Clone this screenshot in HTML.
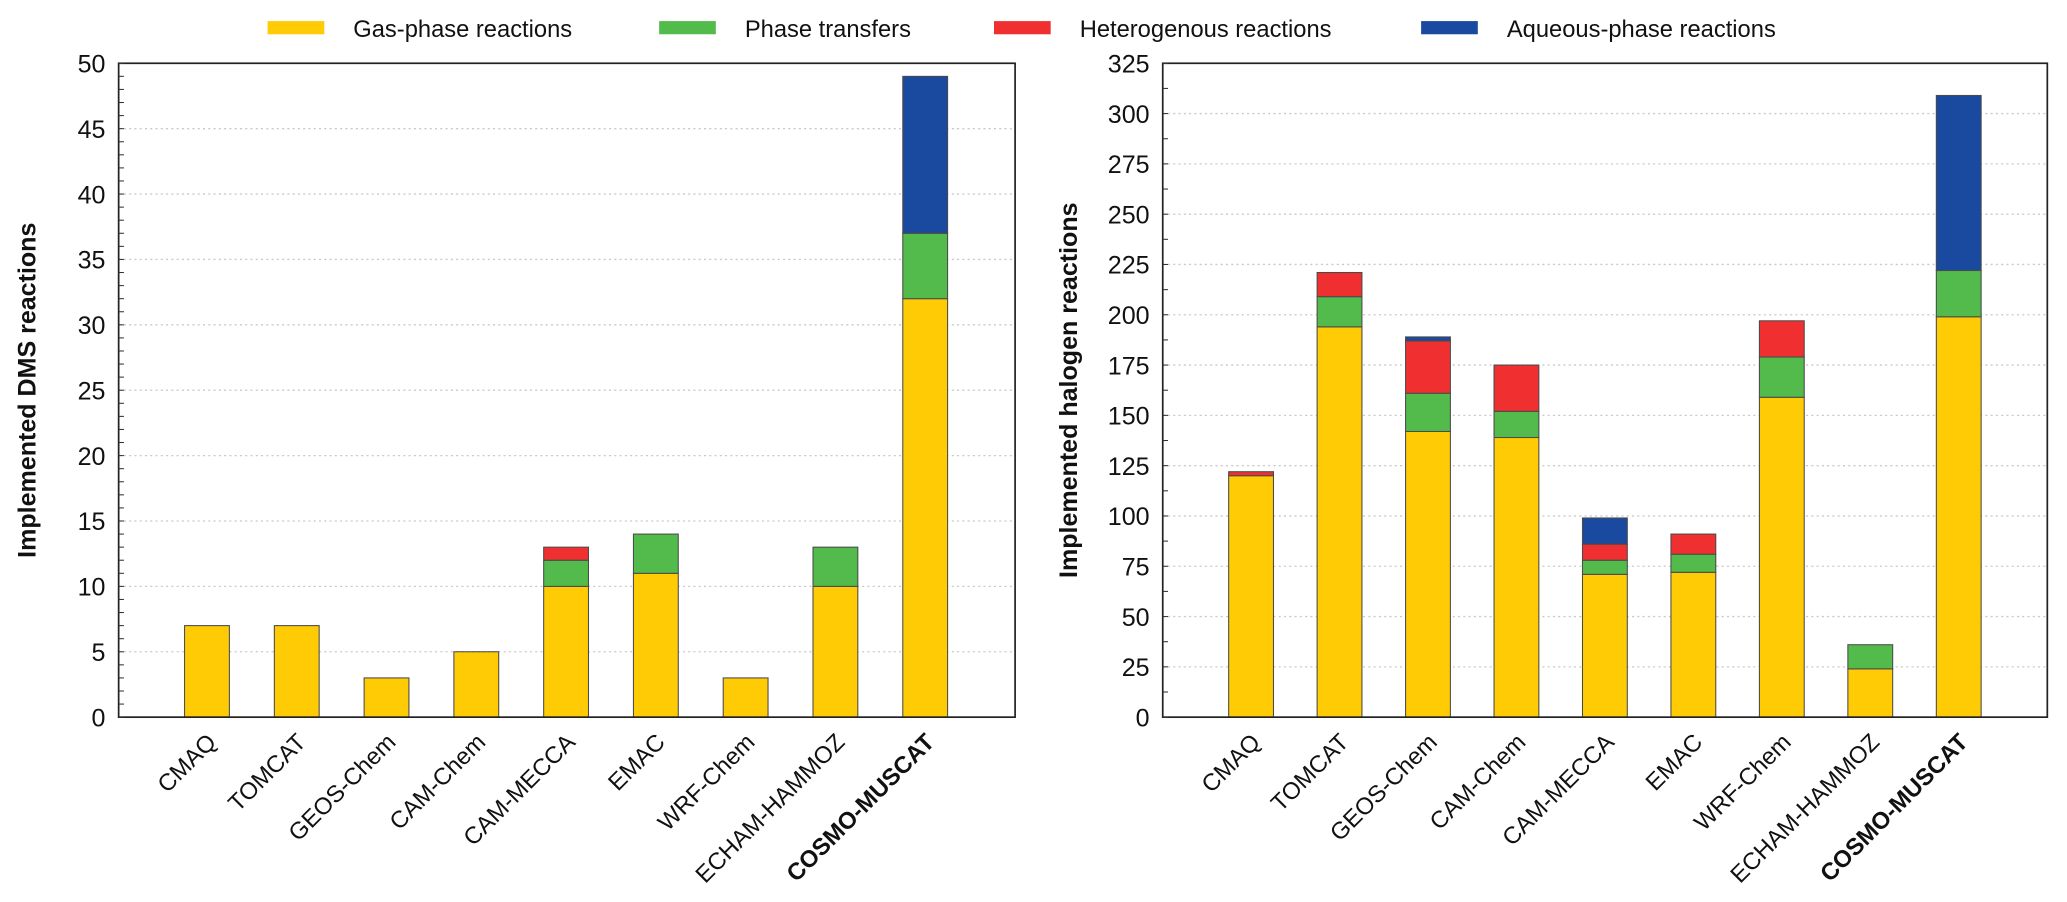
<!DOCTYPE html>
<html><head><meta charset="utf-8"><style>
body{margin:0;background:#fff;}
svg{font-family:"Liberation Sans",Arial,sans-serif;display:block;}
</style></head><body>
<svg id="chart" width="2067" height="902" viewBox="0 0 2067 902" xmlns="http://www.w3.org/2000/svg">
<g transform="scale(1.3183)">
<g id="legend"></g>
<g id="left"></g>
<g id="right"></g>
</g>
</svg>
<script>
const categories = ["CMAQ","TOMCAT","GEOS-Chem","CAM-Chem","CAM-MECCA","EMAC","WRF-Chem","ECHAM-HAMMOZ","COSMO-MUSCAT"];
const seriesNames = ["Gas-phase reactions","Phase transfers","Heterogenous reactions","Aqueous-phase reactions"];
const seriesColors = ["#fecb05","#52bb4c","#f03030","#1a4aa0"];
const dmsGas = [7,7,3,5,10,11,3,10,32];
const dmsPhase = [0,0,0,0,2,3,0,3,5];
const dmsHet = [0,0,0,0,1,0,0,0,0];
const dmsAq = [0,0,0,0,0,0,0,0,12];
const halGas = [120,194,142,139,71,72,159,24,199];
const halPhase = [0,15,19,13,7,9,20,12,23];
const halHet = [2,12,26,23,8,10,18,0,0];
const halAq = [0,0,2,0,13,0,0,0,87];
const dmsTicks = [0,5,10,15,20,25,30,35,40,45,50];
const halTicks = [0,25,50,75,100,125,150,175,200,225,250,275,300,325];

const NS="http://www.w3.org/2000/svg";
function mk(tag,attrs,parent){const e=document.createElementNS(NS,tag);for(const k in attrs)e.setAttribute(k,attrs[k]);parent.appendChild(e);return e;}

const lg=document.getElementById('legend');
const legX=[203,500,754,1078];
seriesNames.forEach((n,i)=>{
  const r=mk('rect',{x:legX[i],y:16,width:43,height:10,fill:seriesColors[i]},lg);
  
  
  const t=mk('text',{x:legX[i]+65,y:28,'font-size':18,fill:'#111'},lg);
  t.textContent=n;
  
  
});

function drawChart(g,opt){
  const {x0,x1,yTop,yBot,max,ticks,minor,series,title,centerStart,spacing}=opt;
  const ys=v=>yBot-(v/max)*(yBot-yTop);
  const xs=i=>centerStart+spacing*i;
  ticks.forEach(t=>{
    if(t>0&&t<max){const l=mk('line',{x1:x0,x2:x1,y1:ys(t),y2:ys(t),stroke:'#c8c8c8','stroke-width':1,'stroke-dasharray':'1.5,2.5'},g);
    }
  });
  const bw=34;
  categories.forEach((c,i)=>{
    let base=0;
    series.forEach((s,k)=>{
      const v=s[i]; if(v<=0)return;
      const r=mk('rect',{x:xs(i)-bw/2,y:ys(base+v),width:bw,height:ys(base)-ys(base+v),fill:seriesColors[k],stroke:'#4a4a4a','stroke-width':0.8},g);
      
      
      base+=v;
    });
    const lx=xs(i)+8, ly=yBot+20;
    const t=mk('text',{x:lx,y:ly,'font-size':18,'text-anchor':'end',fill:'#111',transform:`rotate(-45 ${lx} ${ly})`},g);
    if(c==="COSMO-MUSCAT")t.setAttribute('font-weight','bold');
    t.textContent=c;
    
    
  });
  const f=mk('rect',{x:x0,y:yTop,width:x1-x0,height:yBot-yTop,fill:'none',stroke:'#222','stroke-width':1.3},g);
  
  for(let v=0;v<=max+1e-9;v+=minor){
    const l=mk('line',{x1:x0,x2:x0+4,y1:ys(v),y2:ys(v),stroke:'#333','stroke-width':0.8},g);
    
  }
  ticks.forEach(t=>{
    const tx=mk('text',{x:x0-10,y:ys(t)+7,'font-size':19,'text-anchor':'end',fill:'#111'},g);
    tx.textContent=t;
    
  });
  const ty=(yTop+yBot)/2, tx0=opt.titleX;
  const tt=mk('text',{x:tx0,y:ty,'font-size':19,'font-weight':'bold','text-anchor':'middle',fill:'#111',transform:`rotate(-90 ${tx0} ${ty})`},g);
  tt.textContent=title;
  
}

drawChart(document.getElementById('left'),{x0:90,x1:770,yTop:48,yBot:544,max:50,ticks:dmsTicks,minor:1,
  series:[dmsGas,dmsPhase,dmsHet,dmsAq],title:"Implemented DMS reactions",centerStart:157,spacing:68.1,titleX:27});
drawChart(document.getElementById('right'),{x0:882,x1:1553,yTop:48,yBot:544,max:325,ticks:halTicks,minor:12.5,
  series:[halGas,halPhase,halHet,halAq],title:"Implemented halogen reactions",centerStart:949,spacing:67.1,titleX:817});
</script>
</body></html>
